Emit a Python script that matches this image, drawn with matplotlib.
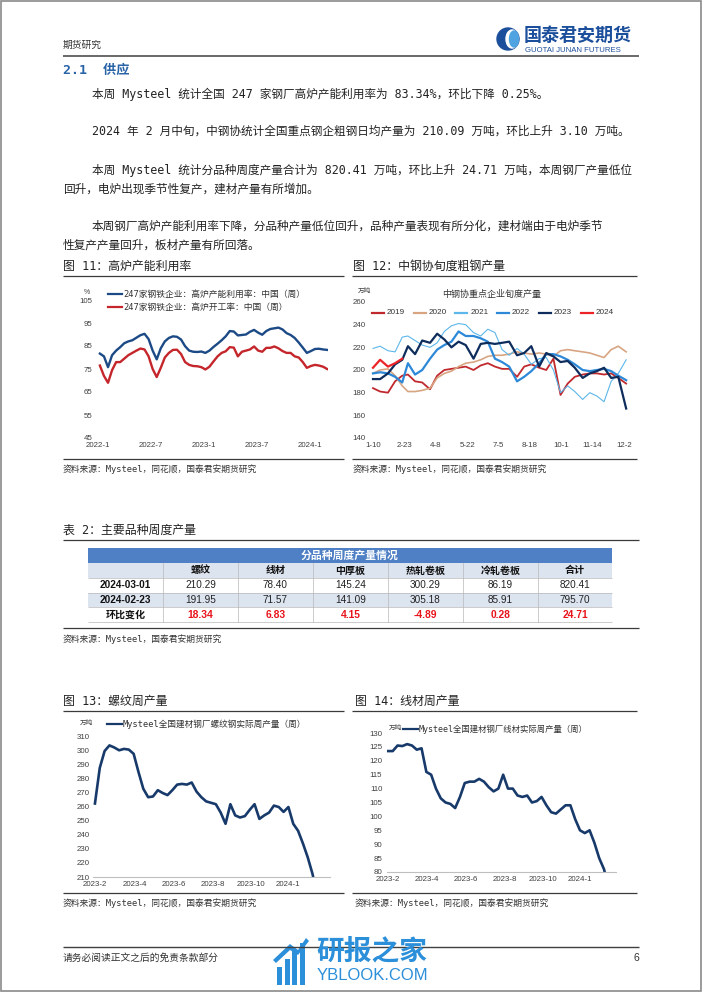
import matplotlib
matplotlib.use("Agg")
import matplotlib.pyplot as plt
from matplotlib.patches import Rectangle, Ellipse, Polygon
import pandas as pd

W, H = 702, 992
CJK = ['Noto Sans CJK SC', 'DejaVu Sans']
MONO = ['DejaVu Sans Mono', 'Noto Sans CJK SC']
SANS = ['Liberation Sans', 'Noto Sans CJK SC']
plt.rcParams['font.family'] = SANS

# ---------------- data ----------------
# fig 11: 247 steel mills, biweekly readings from 2022-01 to 2024-02
bf_util = [81.7, 80.5, 75.8, 81.0, 83.0, 84.5, 86.2, 87.0, 87.5, 88.6, 89.7, 90.3, 88.0, 83.0,
           79.2, 84.0, 87.0, 88.5, 89.2, 89.0, 87.8, 84.9, 83.0, 82.5, 82.4, 82.6, 82.0, 83.0,
           84.6, 86.0, 87.5, 89.2, 91.5, 91.3, 89.6, 89.8, 90.0, 91.2, 92.0, 90.8, 89.9, 91.5,
           92.4, 92.7, 93.0, 92.2, 90.6, 89.8, 88.5, 86.5, 84.3, 82.0, 82.8, 83.7, 83.8, 83.5, 83.3]
bf_rate = [76.5, 72.0, 69.0, 74.5, 78.0, 78.0, 79.5, 81.0, 82.0, 83.0, 83.9, 83.5, 80.5, 75.0,
           71.5, 75.5, 80.0, 82.0, 83.3, 83.4, 81.5, 78.0, 76.8, 76.3, 76.2, 75.8, 74.8, 76.0,
           78.3, 80.5, 82.0, 82.7, 84.5, 84.3, 80.5, 82.5, 83.0, 83.5, 84.8, 83.0, 82.5, 84.2,
           84.2, 84.8, 84.0, 82.8, 82.0, 82.0, 80.5, 80.0, 78.0, 75.5, 76.3, 76.8, 76.5, 76.0, 75.0]
bf_dates = pd.date_range("2022-01-07", periods=len(bf_util), freq="14D")
bf_ticks = ["2022-01-01", "2022-07-01", "2023-01-01", "2023-07-01", "2024-01-01"]
bf_tick_labels = ["2022-1", "2022-7", "2023-1", "2023-7", "2024-1"]

# fig 12: CISA dekad crude steel output, 10k t/day
years = ["2019", "2020", "2021", "2022", "2023", "2024"]
cisa = {
    "2019": [184, 181, 180, 190, 195, 196, 190, 189, 183, 195, 200, 201, 202, 203, 200, 204, 206, 203,
             201, 201, 194, 203, 205, 202, 200, 210, 178, 188, 194, 196, 197, 197, 196, 197, 193, 188],
    "2020": [197, 200, 201, 195, 186, 181, 181, 182, 184, 193, 197, 199, 203, 206, 207, 209, 212, 213,
             213, 214, 216, 215, 214, 215, 214, 212, 217, 218, 217, 216, 215, 213, 211, 218, 221, 216],
    "2021": [219, 221, 217, 216, 229, 230, 226, 222, 220, 224, 234, 239, 241, 240, 233, 230, 236, 233,
             218, 213, 219, 214, 205, 210, 211, 200, 180, 186, 181, 174, 180, 177, 172, 190, 197, 209],
    "2022": [197, 198, 197, 194, 189, 206, 196, 200, 210, 218, 222, 225, 234, 230, 230, 228, 225, 210,
             207, 203, 190, 194, 199, 206, 214, 214, 212, 209, 205, 200, 199, 200, 201, 199, 195, 191],
    "2023": [192, 192, 197, 205, 209, 221, 214, 226, 224, 232, 227, 220, 225, 222, 210, 223, 224, 223,
             224, 225, 213, 215, 221, 203, 215, 212, 207, 208, 202, 193, 197, 199, 202, 193, 194, 166],
    "2024": [202, 209, 203, 206, 210],
}
cisa_colors = {"2019": "#C0282D", "2020": "#D8A583", "2021": "#5DB7EA",
               "2022": "#2D89D8", "2023": "#0E2D5C", "2024": "#EC2327"}
cisa_widths = {"2019": 1.3, "2020": 1.2, "2021": 0.8, "2022": 1.6, "2023": 1.6, "2024": 1.6}
cisa_ticks = ["01-10", "02-23", "04-08", "05-22", "07-05", "08-18", "10-01", "11-14", "12-28"]
cisa_tick_labels = ["1-10", "2-23", "4-8", "5-22", "7-5", "8-18", "10-1", "11-14", "12-2"]

# fig 13 / 14: weekly rebar and wire rod output, 10k t
rebar = [262.5, 288, 300, 304, 302.5, 300.5, 301.5, 301, 298, 285, 273, 267, 267.5, 272, 270, 268.5,
         272, 276, 276.5, 276, 277.5, 271, 267, 264, 263, 262, 256, 248, 262, 254, 252.5, 253.5,
         258, 262, 251.5, 254, 256, 261, 260, 256.5, 260, 248, 243, 234, 224, 212, 195]
wire = [123.5, 123.5, 125.5, 125.3, 126, 125.5, 124, 124.5, 116, 115, 110, 106.5, 105, 104.5, 103,
        107, 112, 112.5, 112.5, 113.5, 112.5, 110.5, 109, 110, 115, 110, 110, 107.5, 107, 107.5, 105,
        105.5, 107, 104, 101.5, 101, 102.5, 104, 104, 99, 95, 94, 95, 90.5, 85, 81, 74]
week_ticks = [0, 8.2, 16.3, 24.3, 32.2, 40.0]
week_tick_labels = ["2023-2", "2023-4", "2023-6", "2023-8", "2023-10", "2024-1"]

# table 2
tbl_cols = ["螺纹", "线材", "中厚板", "热轧卷板", "冷轧卷板", "合计"]
tbl_rows = ["2024-03-01", "2024-02-23", "环比变化"]
tbl_this = [210.29, 78.40, 145.24, 300.29, 86.19, 820.41]
tbl_last = [191.95, 71.57, 141.09, 305.18, 85.91, 795.70]
tbl_chg = [18.34, 6.83, 4.15, -4.89, 0.28, 24.71]

paras = [
    (92, 94, "本周 Mysteel 统计全国 247 家钢厂高炉产能利用率为 83.34%，环比下降 0.25%。"),
    (92, 131, "2024 年 2 月中旬，中钢协统计全国重点钢企粗钢日均产量为 210.09 万吨，环比上升 3.10 万吨。"),
    (92, 170, "本周 Mysteel 统计分品种周度产量合计为 820.41 万吨，环比上升 24.71 万吨，本周钢厂产量低位"),
    (63, 189, "回升，电炉出现季节性复产，建材产量有所增加。"),
    (92, 226, "本周钢厂高炉产能利用率下降，分品种产量低位回升，品种产量表现有所分化，建材端由于电炉季节"),
    (63, 245, "性复产产量回升，板材产量有所回落。"),
]

# ---------------- page ----------------
fig = plt.figure(figsize=(W / 100, H / 100), dpi=100)
pg = fig.add_axes([0, 0, 1, 1])
pg.set_xlim(0, W)
pg.set_ylim(H, 0)
pg.axis('off')


def hline(y, x0, x1, c='#3a3a3a', lw=0.9):
    pg.plot([x0, x1], [y, y], color=c, lw=lw, solid_capstyle='butt')


def txt(x, y, s, size=8.6, color='#222222', fam=MONO, **kw):
    pg.text(x, y, s, fontsize=size, color=color, family=fam, va='center', **kw)


pg.add_patch(Rectangle((1, 1), W - 2.5, H - 2.5, fill=False, ec='#8a8a8a', lw=1.2))

# header
txt(63, 45, "期货研究", size=7, color='#333333', fam=CJK)
pg.add_patch(Ellipse((508, 39), 22, 22, color='#1B4F9C'))
pg.add_patch(Ellipse((512, 39), 12, 18, color='white'))
pg.add_patch(Ellipse((514, 39), 9, 16, color='#4FA3E0'))
txt(524, 35, "国泰君安期货", size=13, color='#1B4F9C', fam=CJK, fontweight='bold')
txt(525, 50, "GUOTAI JUNAN FUTURES", size=5.6, color='#1B4F9C', fam=SANS)
hline(56, 63, 639, c='#404040', lw=1.1)

txt(63, 70, "2.1  供应", size=9.5, color='#2863A8', fam=MONO, fontweight='bold')
for x, y, s in paras:
    txt(x, y, s, size=8.4)

# figure titles and rules
for x, y, s in [(63, 266, "图 11：高炉产能利用率"), (353, 266, "图 12：中钢协旬度粗钢产量"),
                (63, 530, "表 2：主要品种周度产量"), (63, 701, "图 13：螺纹周产量"),
                (355, 701, "图 14：线材周产量")]:
    txt(x, y, s, size=8.6, color='#222222')
for y in (276, 459):
    hline(y, 63, 344)
    hline(y, 352, 637)
for y in (711, 893):
    hline(y, 63, 344)
    hline(y, 352, 637)
hline(540, 63, 639)
hline(628, 63, 639)
src = "资料来源：Mysteel，同花顺，国泰君安期货研究"
txt(63, 469, src, size=6.3, color='#333333')
txt(353, 469, src, size=6.3, color='#333333')
txt(63, 903, src, size=6.3, color='#333333')
txt(355, 903, src, size=6.3, color='#333333')
txt(63, 639, "资料来源：Mysteel，国泰君安期货研究", size=6.3, color='#333333')

# table
col_x = [88, 163, 238, 313, 388, 463, 538, 612]
row_y = [548, 563, 578, 593, 607, 622]
pg.add_patch(Rectangle((col_x[0], row_y[0]), col_x[-1] - col_x[0], row_y[1] - row_y[0],
                       color='#4F7FC4', lw=0))
txt((col_x[0] + col_x[-1]) / 2, (row_y[0] + row_y[1]) / 2, "分品种周度产量情况", size=7.8,
    color='white', fam=CJK, fontweight='bold', ha='center')
row_fill = ['#DCE4F0', 'white', '#DCE4F0', 'white']
for r in range(4):
    pg.add_patch(Rectangle((col_x[0], row_y[r + 1]), col_x[-1] - col_x[0],
                           row_y[r + 2] - row_y[r + 1], color=row_fill[r], lw=0))
for x in col_x[1:-1]:
    pg.plot([x, x], [row_y[1], row_y[-1]], color='#B8B8B8', lw=0.5)
for y in row_y[2:]:
    hline(y, col_x[0], col_x[-1], c='#B8B8B8', lw=0.5)
for j, c in enumerate(tbl_cols):
    cx = (col_x[j + 1] + col_x[j + 2]) / 2
    txt(cx, (row_y[1] + row_y[2]) / 2, c, size=7.2, color='#111111', fam=CJK,
        fontweight='bold', ha='center')
for r, (lab, vals) in enumerate(zip(tbl_rows, [tbl_this, tbl_last, tbl_chg])):
    cy = (row_y[r + 2] + row_y[r + 3]) / 2
    txt((col_x[0] + col_x[1]) / 2, cy, lab, size=7.2, color='#111111', fam=SANS,
        fontweight='bold', ha='center')
    for j, v in enumerate(vals):
        cx = (col_x[j + 1] + col_x[j + 2]) / 2
        if r == 2:
            txt(cx, cy, f"{v:.2f}", size=7.4, color='#E8141B', fam=SANS, fontweight='bold', ha='center')
        else:
            txt(cx, cy, f"{v:.2f}", size=7.2, color='#222222', fam=SANS, ha='center')

# footer
hline(947, 63, 639, c='#404040', lw=1.0)
txt(63, 958, "请务必阅读正文之后的免责条款部分", size=7, color='#333333', fam=CJK)
txt(639, 958, "6", size=7.5, color='#333333', fam=SANS, ha='right')
for k, hgt in enumerate([18, 26, 34, 42]):
    pg.add_patch(Rectangle((277 + k * 7.5, 985 - hgt), 5, hgt, color='#2B8FD9', lw=0))
pg.add_patch(Polygon([(273, 960), (290, 944), (298, 950), (306, 938), (309, 941), (298, 955),
                      (290, 950), (276, 963)], color='#2B8FD9', lw=0))
txt(316, 951, "研报之家", size=20, color='#2B8FD9', fam=CJK, fontweight='bold')
txt(317, 976, "YBLOOK.COM", size=12, color='#2B8FD9', fam=SANS)


def panel(l, t, r, b, bottom=False):
    ax = fig.add_axes([l / W, 1 - b / H, (r - l) / W, (b - t) / H])
    ax.patch.set_alpha(0)
    for s in ['top', 'right', 'left']:
        ax.spines[s].set_visible(False)
    ax.spines['bottom'].set_visible(bottom)
    ax.spines['bottom'].set_color('#BFBFBF')
    ax.tick_params(length=0, labelsize=5.7, colors='#404040', pad=3)
    return ax


# fig 11
ax = panel(97, 300, 328, 438)
ax.plot(bf_dates, bf_util, color='#1C4A86', lw=1.7, solid_joinstyle='round')
ax.plot(bf_dates, bf_rate, color='#C4262B', lw=1.7, solid_joinstyle='round')
ax.set_xlim(pd.Timestamp("2021-12-28"), pd.Timestamp("2024-03-04"))
ax.set_ylim(45, 105)
ax.set_yticks(range(45, 106, 10))
ax.set_xticks(pd.to_datetime(bf_ticks))
ax.set_xticklabels(bf_tick_labels)
txt(84, 292, "%", size=5, color='#404040', fam=SANS)
for y, c, s in [(294, '#1C4A86', "247家钢铁企业：高炉产能利用率：中国（周）"),
                (307, '#C4262B', "247家钢铁企业：高炉开工率：中国（周）")]:
    pg.plot([108, 122], [y, y], color=c, lw=1.6)
    txt(123, y, s, size=6.3, color='#333333', fam=MONO)

# fig 12
days = []
for m in range(1, 13):
    for d in (10, 20):
        days.append(pd.Timestamp(2023, m, d).dayofyear)
    days.append((pd.Timestamp(2023, m, 1) + pd.offsets.MonthEnd(0)).dayofyear)
days = sorted(days)
ax = panel(370, 302, 630, 438)
for yr in years:
    vals = cisa[yr]
    ax.plot(days[:len(vals)], vals, color=cisa_colors[yr], lw=cisa_widths[yr],
            solid_joinstyle='round')
ax.set_xlim(5.8, 370.4)
ax.set_ylim(140, 260)
ax.set_yticks(range(140, 261, 20))
ax.set_xticks([pd.Timestamp("2023-" + t).dayofyear for t in cisa_ticks])
ax.set_xticklabels(cisa_tick_labels)
txt(358, 291, "万吨", size=4.8, color='#404040', fam=CJK)
txt(492, 294, "中钢协重点企业旬度产量", size=6.5, color='#333333', fam=CJK, ha='center')
for k, yr in enumerate(years):
    x0 = 372 + k * 41.7
    pg.plot([x0, x0 + 12], [313, 313], color=cisa_colors[yr], lw=1.6)
    txt(x0 + 15, 313, yr, size=5.9, color='#333333', fam=SANS)

# fig 13
ax = panel(93.5, 737, 330, 877, bottom=True)
ax.plot(range(len(rebar)), rebar, color='#173A6B', lw=1.9, solid_joinstyle='round')
ax.set_xlim(-0.3, 48.6)
ax.set_ylim(210, 310)
ax.set_yticks(range(210, 311, 10))
ax.set_xticks(week_ticks)
ax.set_xticklabels(week_tick_labels)
txt(80, 723, "万吨", size=4.8, color='#404040', fam=CJK)
pg.plot([107, 122], [724, 724], color='#173A6B', lw=1.6)
txt(123, 724, "Mysteel全国建材钢厂螺纹钢实际周产量（周）", size=6.2, color='#333333', fam=MONO)

# fig 14
ax = panel(386.5, 733, 616, 872, bottom=True)
ax.plot(range(len(wire)), wire, color='#173A6B', lw=1.9, solid_joinstyle='round')
ax.set_xlim(-0.3, 47.5)
ax.set_ylim(80, 130)
ax.set_yticks(range(80, 131, 5))
ax.set_xticks(week_ticks)
ax.set_xticklabels(week_tick_labels)
txt(389, 728, "万吨", size=4.8, color='#404040', fam=CJK)
pg.plot([403, 418], [729, 729], color='#173A6B', lw=1.6)
txt(419, 729, "Mysteel全国建材钢厂线材实际周产量（周）", size=6.0, color='#333333', fam=MONO)

fig.savefig("out.png", dpi=100)
